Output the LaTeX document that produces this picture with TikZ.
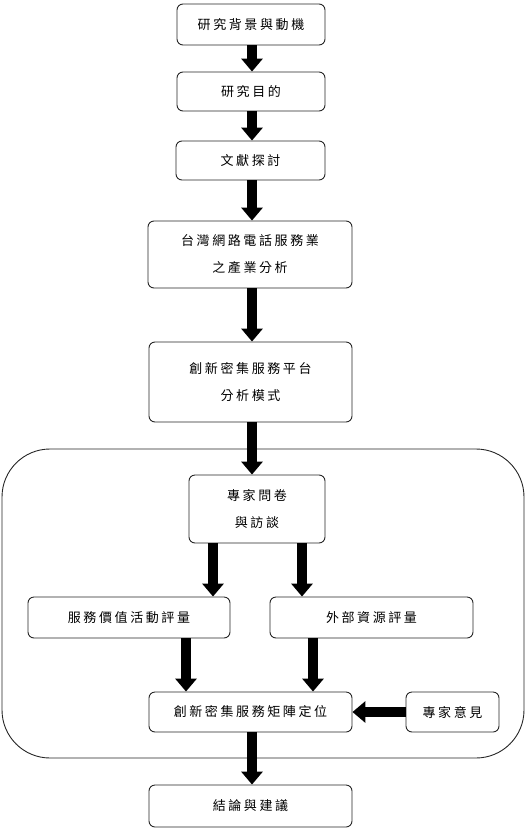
\documentclass[tikz,border=0pt]{standalone}
\usepackage{fontspec}
\newfontfamily\cjk[LetterSpace=20]{Noto Sans CJK TC}
\usetikzlibrary{arrows.meta}
\begin{document}
\begin{tikzpicture}[x=1pt,y=-1pt,
  box/.style={draw=black!85, line width=0.9pt, rounded corners=6pt, align=center,
    font=\cjk\fontsize{13}{27}\selectfont, inner sep=0pt},
  frame/.style={draw=black!85, line width=0.9pt, rounded corners=48pt, inner sep=0pt},
  fat/.style={line width=10pt, -{Triangle[length=13pt 0, width=21pt 0]}}]
\useasboundingbox (0,0) rectangle (526,836);
\node[frame, minimum width=522pt, minimum height=309pt] (fr) at (263,603.5) {};
\node[box, minimum width=148pt, minimum height=41pt] (b1) at (251,24.5) {研究背景與動機};
\node[box, minimum width=148pt, minimum height=39pt] (b2) at (251,91.5) {研究目的};
\node[box, minimum width=149pt, minimum height=39pt] (b3) at (250.5,160.5) {文獻探討};
\node[box, minimum width=204pt, minimum height=67pt] (b4) at (250,254.5) {台灣網路電話服務業\\之產業分析};
\node[box, minimum width=203pt, minimum height=80pt] (b5) at (250.5,382) {創新密集服務平台\\分析模式};
\node[box, minimum width=136pt, minimum height=68pt] (b6) at (257,509) {專家問卷\\與訪談};
\node[box, minimum width=202pt, minimum height=41pt] (b7) at (129,617.5) {服務價值活動評量};
\node[box, minimum width=203pt, minimum height=41pt] (b8) at (371.5,617.5) {外部資源評量};
\node[box, minimum width=203pt, minimum height=40pt] (b9) at (250.5,712) {創新密集服務矩陣定位};
\node[box, minimum width=93pt, minimum height=40pt] (b10) at (452.5,712) {專家意見};
\node[box, minimum width=203pt, minimum height=42pt] (b11) at (250.5,806) {結論與建議};
\coordinate (xa) at (213,0);
\coordinate (xb) at (302,0);
\coordinate (xc) at (186,0);
\coordinate (xd) at (313,0);
\coordinate (xm) at (252,0);
\draw[fat] (b1.south -| xm) -- (b2.north -| xm);
\draw[fat] (b2.south -| xm) -- (b3.north -| xm);
\draw[fat] (b3.south -| xm) -- (b4.north -| xm);
\draw[fat] (b4.south -| xm) -- (b5.north -| xm);
\draw[fat] (b5.south -| xm) -- (b6.north -| xm);
\draw[fat] (b6.south -| xa) -- (b7.north -| xa);
\draw[fat] (b6.south -| xb) -- (b8.north -| xb);
\draw[fat] (b7.south -| xc) -- (b9.north -| xc);
\draw[fat] (b8.south -| xd) -- (b9.north -| xd);
\draw[fat] (b10.west) -- (b9.east);
\draw[fat] (b9.south -| xm) -- (b11.north -| xm);
\end{tikzpicture}
\end{document}
